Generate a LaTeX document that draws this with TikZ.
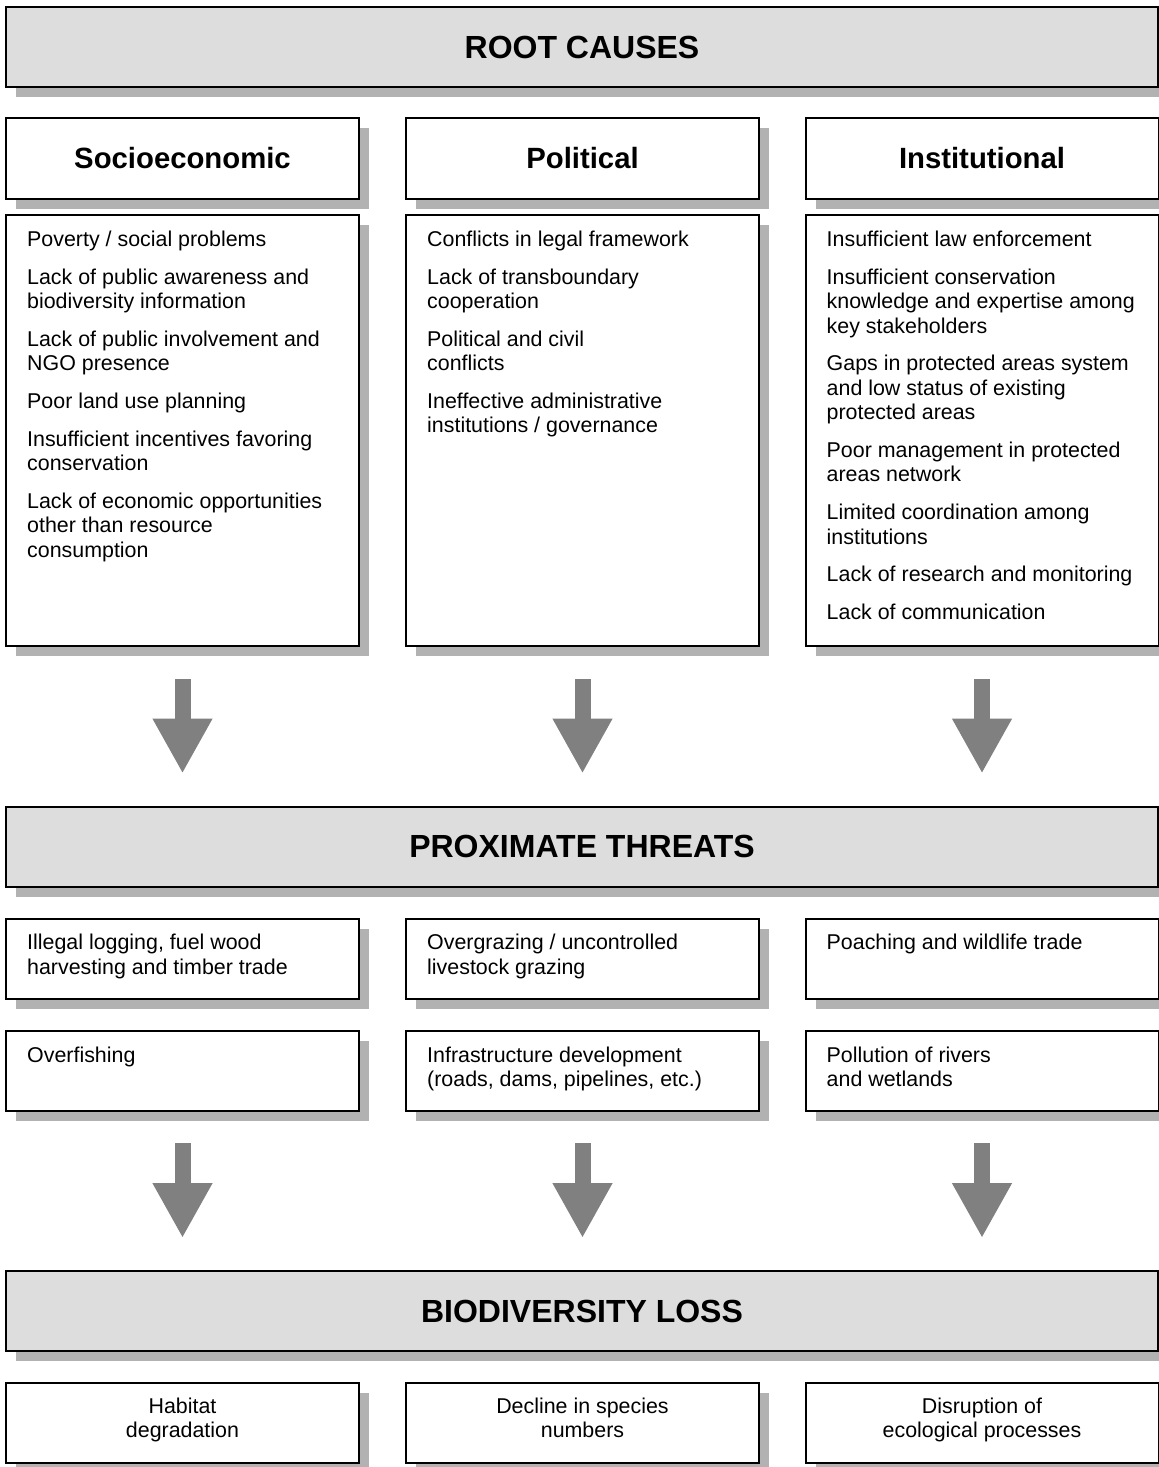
\documentclass[tikz,border=0pt]{standalone}
\usepackage{fontspec}
\setmainfont{Liberation Sans}
\usepackage{xcolor}
\usetikzlibrary{positioning,shadows,arrows.meta}

\definecolor{bannergray}{HTML}{DDDDDD}
\definecolor{shadowgray}{HTML}{B2B2B2}
\definecolor{arrowgray}{HTML}{808080}
\newlength{\itemgap}
\setlength{\itemgap}{13.2pt}

\begin{document}
\begin{tikzpicture}[x=1pt,y=-1pt,
    box/.style = {draw, line width=2pt, fill=white, inner sep=0pt, outer sep=0pt,
        drop shadow={shadow xshift=10pt, shadow yshift=-10pt, fill=shadowgray, opacity=1}},
    banner/.style = {box, fill=bannergray, minimum width=1152pt, minimum height=80pt,
        font=\fontsize{32}{38}\selectfont\bfseries},
    colhead/.style = {box, minimum width=353pt, minimum height=81pt,
        font=\fontsize{29.3}{35}\selectfont\bfseries},
    listbox/.style = {box, minimum width=353pt, minimum height=431pt},
    threat/.style = {box, minimum width=353pt, minimum height=80pt},
    item/.style = {anchor=north west, align=left, inner sep=0pt, font=\fontsize{21.4}{24.5}\selectfont},
    result/.style = {anchor=north, align=center, inner sep=0pt, font=\fontsize{21.4}{24}\selectfont},
    bigarrow/.style = {draw=arrowgray, line width=16pt, -{Triangle[width=56pt,length=55pt]},
        shorten <= 33pt, shorten >= 33pt}
]
    \useasboundingbox (0,0) rectangle (1159,1467);

    % Root causes
    \node at (582,47) [banner] (root) {ROOT CAUSES};

    \node at (182.5,158.5) [colhead] (socH) {Socioeconomic};
    \node at (582.5,158.5) [colhead] (polH) {Political};
    \node at (982,158.5)   [colhead] (insH) {Institutional};

    \node at (182.5,430.5) [listbox] (socB) {};
    \node at (582.5,430.5) [listbox] (polB) {};
    \node at (982,430.5)   [listbox] (insB) {};

    \node [item] (socT) at ([xshift=21pt,yshift=-14pt]socB.north west) {\strut Poverty / social problems\\[\itemgap]
        Lack of public awareness and\\ biodiversity information\\[\itemgap]
        Lack of public involvement and\\ NGO presence\\[\itemgap]
        Poor land use planning\\[\itemgap]
        Insufficient incentives favoring\\ conservation\\[\itemgap]
        Lack of economic opportunities\\ other than resource\\ consumption};
    \node [item] (polT) at ([xshift=21pt,yshift=-14pt]polB.north west) {\strut Conflicts in legal framework\\[\itemgap]
        Lack of transboundary\\ cooperation\\[\itemgap]
        Political and civil\\ conflicts\\[\itemgap]
        Ineffective administrative\\ institutions / governance};
    \node [item] (insT) at ([xshift=21pt,yshift=-14pt]insB.north west) {\strut Insufficient law enforcement\\[\itemgap]
        Insufficient conservation\\ knowledge and expertise among\\ key stakeholders\\[\itemgap]
        Gaps in protected areas system\\ and low status of existing\\ protected areas\\[\itemgap]
        Poor management in protected\\ areas network\\[\itemgap]
        Limited coordination among\\ institutions\\[\itemgap]
        Lack of research and monitoring\\[\itemgap]
        Lack of communication};

    % Proximate threats
    \node at (582,846.5) [banner] (prox) {PROXIMATE THREATS};

    \node at (182.5,958.5) [threat] (logB) {};
    \node at (582.5,958.5) [threat] (grazeB) {};
    \node at (982,958.5)   [threat] (poachB) {};
    \node at (182.5,1071)  [threat] (fishB) {};
    \node at (582.5,1071)  [threat] (infraB) {};
    \node at (982,1071)    [threat] (pollB) {};

    \node [item] (logT) at ([xshift=21pt,yshift=-14pt]logB.north west) {\strut Illegal logging, fuel wood\\ harvesting and timber trade};
    \node [item] (grazeT) at ([xshift=21pt,yshift=-14pt]grazeB.north west) {\strut Overgrazing / uncontrolled\\ livestock grazing};
    \node [item] (poachT) at ([xshift=21pt,yshift=-14pt]poachB.north west) {\strut Poaching and wildlife trade};
    \node [item] (fishT) at ([xshift=21pt,yshift=-14pt]fishB.north west) {\strut Overfishing};
    \node [item] (infraT) at ([xshift=21pt,yshift=-14pt]infraB.north west) {\strut Infrastructure development\\ (roads, dams, pipelines, etc.)};
    \node [item] (pollT) at ([xshift=21pt,yshift=-14pt]pollB.north west) {\strut Pollution of rivers\\ and wetlands};

    % Biodiversity loss
    \node at (582,1311) [banner] (bio) {BIODIVERSITY LOSS};

    \node at (182.5,1423) [threat] (habB) {};
    \node at (582.5,1423) [threat] (declB) {};
    \node at (982,1423)   [threat] (disrB) {};

    \node [result] (habT) at ([yshift=-13pt]habB.north) {\strut Habitat\\ degradation};
    \node [result] (declT) at ([yshift=-13pt]declB.north) {\strut Decline in species\\ numbers};
    \node [result] (disrT) at ([yshift=-13pt]disrB.north) {\strut Disruption of\\ ecological processes};

    % Arrows
    \draw [bigarrow] (socB.south) -- (socB.south |- prox.north);
    \draw [bigarrow] (polB.south) -- (polB.south |- prox.north);
    \draw [bigarrow] (insB.south) -- (insB.south |- prox.north);

    \draw [bigarrow,shorten <= 32pt] (fishB.south) -- (fishB.south |- bio.north);
    \draw [bigarrow,shorten <= 32pt] (infraB.south) -- (infraB.south |- bio.north);
    \draw [bigarrow,shorten <= 32pt] (pollB.south) -- (pollB.south |- bio.north);
\end{tikzpicture}
\end{document}
